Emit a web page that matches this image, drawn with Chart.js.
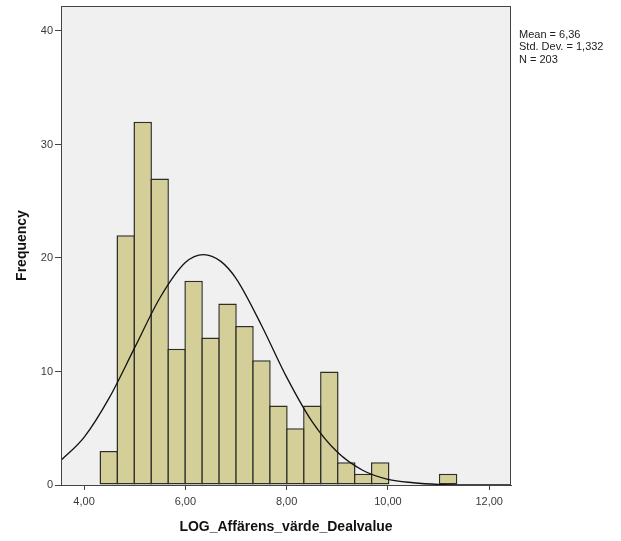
<!doctype html>
<html lang="sv">
  <head>
    <meta charset="utf-8">
    <title>LOG_Affärens_värde_Dealvalue</title>
    <style>
      body { margin: 0; background: #fff; }
      #wrap { width: 621px; height: 541px; }
    </style>
  </head>
  <body>
    <div id="wrap">
      <canvas id="histChart" width="621" height="541"></canvas>
    </div>

    <script src="https://cdn.jsdelivr.net/npm/chart.js"></script>
    <script>
        // histogram bins (centres) and frequencies
        const binCenters = [4.488, 4.823, 5.158, 5.493, 5.828, 6.163, 6.498, 6.833, 7.168, 7.503,
                            7.838, 8.173, 8.508, 8.843, 9.178, 9.513, 9.848, 10.183, 10.518, 10.853, 11.188];
        const counts = [3, 22, 32, 27, 12, 18, 13, 16, 14, 11,
                        7, 5, 7, 10, 2, 1, 2, 0, 0, 0, 1];

        // normal curve
        const curveX = [3.55, 4.0, 4.5, 5.0, 5.5, 6.0, 6.36, 6.7, 7.0, 7.5, 8.0, 8.5, 9.0, 9.5, 10.0, 10.5, 11.0, 11.5, 12.0, 12.43];
        const curveY = [2.2, 4.2, 7.7, 12.1, 16.5, 19.6, 20.3, 19.7, 18.2, 14.1, 9.5, 5.6, 2.9, 1.3, 0.5, 0.2, 0.05, 0.01, 0, 0];

        const xTicks = [4, 6, 8, 10, 12];
        const yTicks = [0, 10, 20, 30, 40];
        const statsLines = ['Mean = 6,36', 'Std. Dev. = 1,332', 'N = 203'];
    </script>

    <script>
        Chart.defaults.font.family = "'Liberation Sans', Arial, sans-serif";
        Chart.defaults.color = '#333';

        const axisColor = '#444';

        const frame = {
            id: 'frame',
            beforeDraw(chart) {
                const {ctx, chartArea: a} = chart;
                ctx.save();
                ctx.fillStyle = '#f0f0f0';
                ctx.fillRect(a.left, a.top, a.right - a.left, a.bottom - a.top);
                ctx.restore();
            },
            afterDraw(chart) {
                const {ctx, chartArea: a} = chart;
                ctx.save();
                ctx.strokeStyle = axisColor;
                ctx.lineWidth = 1;
                ctx.strokeRect(a.left + 0.5, a.top + 0.5, a.right - a.left - 1, a.bottom - a.top);
                // stats box text
                ctx.fillStyle = '#222';
                ctx.font = "11px 'Liberation Sans', Arial, sans-serif";
                ctx.textBaseline = 'top';
                statsLines.forEach((t, i) => ctx.fillText(t, a.right + 8, 29 + i * 12.5));
                ctx.restore();
            }
        };

        const data = {
            datasets: [
                {
                    type: 'line',
                    data: curveX.map((x, i) => ({x, y: curveY[i]})),
                    borderColor: '#111',
                    borderWidth: 1.3,
                    pointRadius: 0,
                    cubicInterpolationMode: 'monotone',
                    fill: false,
                    order: 0
                },
                {
                    type: 'bar',
                    data: binCenters.map((x, i) => ({x, y: counts[i]})),
                    backgroundColor: '#d4cf98',
                    borderColor: '#2f2e24',
                    borderWidth: 1.5,
                    borderSkipped: false,
                    barPercentage: 1.088,
                    categoryPercentage: 1,
                    order: 1
                }
            ]
        };

        const config = {
            type: 'bar',
            data,
            plugins: [frame],
            options: {
                responsive: false,
                animation: false,
                layout: { padding: { top: 6, right: 110, left: 0, bottom: 0 } },
                plugins: {
                    legend: { display: false },
                    tooltip: { enabled: false }
                },
                scales: {
                    x: {
                        type: 'linear',
                        offset: false,
                        min: 3.545,
                        max: 12.43,
                        afterBuildTicks: (s) => { s.ticks = xTicks.map((v) => ({value: v})); },
                        afterFit: (s) => { s.height = 56; s.paddingLeft = 0; s.paddingRight = 0; },
                        grid: { offset: false, drawOnChartArea: false, tickLength: 5, tickColor: axisColor },
                        border: { color: axisColor },
                        ticks: {
                            padding: 5,
                            font: { size: 11 },
                            color: '#3a3a3a',
                            maxRotation: 0,
                            callback: (v) => v.toFixed(2).replace('.', ',')
                        },
                        title: {
                            display: true,
                            text: 'LOG_Affärens_värde_Dealvalue',
                            color: '#111',
                            font: { size: 14, weight: 'bold' },
                            padding: { top: 0, bottom: 5.6 }
                        }
                    },
                    y: {
                        min: 0,
                        max: 42.2,
                        afterBuildTicks: (s) => { s.ticks = yTicks.map((v) => ({value: v})); },
                        afterFit: (s) => { s.width = 61; s.paddingTop = 0; s.paddingBottom = 0; },
                        grid: { drawOnChartArea: false, tickLength: 6, tickColor: axisColor },
                        border: { color: axisColor },
                        ticks: { padding: 2, font: { size: 11 }, color: '#3a3a3a' },
                        title: {
                            display: true,
                            text: 'Frequency',
                            color: '#111',
                            font: { size: 14, weight: 'bold' },
                            padding: { top: 13.6, bottom: 0 }
                        }
                    }
                }
            }
        };

        new Chart(document.getElementById('histChart'), config);
    </script>
  </body>
</html>
